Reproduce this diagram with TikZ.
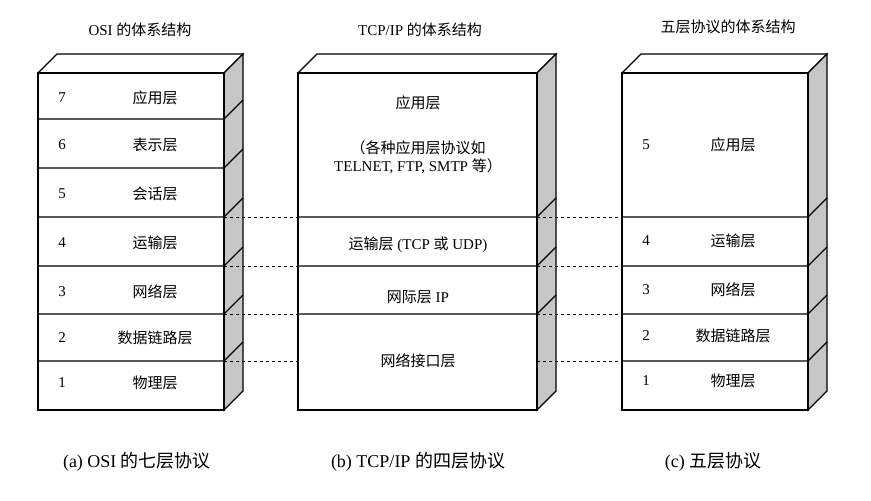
\documentclass[tikz,border=0pt]{standalone}
\usepackage{fontspec}
\setmainfont{Liberation Serif}
\newfontfamily\cjk{Noto Sans CJK SC}
\begin{document}
\begin{tikzpicture}[x=1pt,y=-1pt,
  face/.style={draw,line width=1.2pt,fill=white},
  side/.style={draw,line width=1.2pt,fill=gray!45},
  dash line/.style={dashed,line width=0.7pt},
  txt/.style={font=\fontsize{15}{18}\selectfont},
  ttl/.style={font=\fontsize{15}{18}\selectfont},
  captxt/.style={font=\fontsize{18}{21}\selectfont}]
\useasboundingbox (0,0) rectangle (871,501);
\def\d{19}
\newcommand{\stackbox}[3]{%
  \filldraw[face] (#1,73) -- (#1+\d,54) -- (#2+\d,54) -- (#2,73) -- cycle;
  \filldraw[side] (#2,73) -- (#2+\d,54) -- (#2+\d,391) -- (#2,410) -- cycle;
  \draw[face] (#1,73) rectangle (#2,410);
  \foreach \yy in {#3} {\draw[line width=1.2pt] (#1,\yy) -- (#2,\yy) -- (#2+\d,\yy-\d);}
}
\stackbox{38}{224}{119,168,217,266,314,361}
\stackbox{298}{537}{217,266,314}
\stackbox{622}{808}{217,266,314,361}
\foreach \yy in {217,266,314,361}{
  \coordinate (a\yy) at (224,\yy); \coordinate (b\yy) at (298,\yy);
  \coordinate (c\yy) at (537,\yy); \coordinate (e\yy) at (622,\yy);
  \draw[dash line] (a\yy) -- (b\yy);
  \draw[dash line] (c\yy) -- (e\yy);
}
\node[ttl] (t1) at (140,30) {OSI {\cjk 的体系结构}};
\node[ttl] (t2) at (420,30) {TCP/IP {\cjk 的体系结构}};
\node[ttl] (t3) at (728,27) {\cjk 五层协议的体系结构};
\foreach \n/\y/\s in {7/98/应用层,6/145/表示层,5/194/会话层,4/243/运输层,3/292/网络层,2/338/数据链路层,1/383/物理层}{
  \node[txt] (on\n) at (62,\y) {\n};
  \node[txt] (os\n) at (155,\y) {\cjk \s};
}
\node[txt] (p1) at (418,103) {\cjk 应用层};
\node[txt,align=center] (p2) at (418,157) {{\cjk （各种应用层协议如}\\TELNET, FTP, SMTP {\cjk 等）}};
\node[txt] (p3) at (418,245) {{\cjk 运输层} (TCP {\cjk 或} UDP)};
\node[txt] (p4) at (418,297) {{\cjk 网际层} IP};
\node[txt] (p5) at (418,361) {\cjk 网络接口层};
\foreach \n/\y/\s in {5/145/应用层,4/241/运输层,3/290/网络层,2/336/数据链路层,1/381/物理层}{
  \node[txt] (fn\n) at (646,\y) {\n};
  \node[txt] (fs\n) at (733,\y) {\cjk \s};
}
\node[captxt] (c1) at (137,462) {(a) OSI {\cjk 的七层协议}};
\node[captxt] (c2) at (418,462) {(b) TCP/IP {\cjk 的四层协议}};
\node[captxt] (c3) at (713,462) {(c) {\cjk 五层协议}};
\end{tikzpicture}
\end{document}
